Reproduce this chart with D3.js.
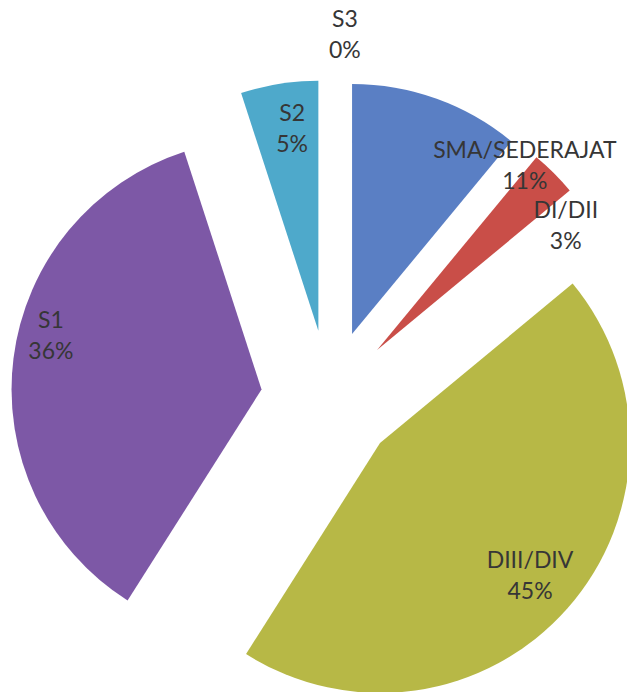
<!DOCTYPE html>
<html>
<head>
<meta charset="utf-8">
<script src="https://cdn.jsdelivr.net/npm/d3@7"></script>
<style>
  html, body { margin: 0; padding: 0; background: #ffffff; }
  svg { display: block; }
  .lbl { font-family: Lato, "Open Sans", sans-serif; fill: #363636; }
</style>
</head>
<body>
<svg id="chart" width="627" height="692"></svg>
<script>
// Education level shares (percent)
const categories = ["SMA/SEDERAJAT", "DI/DII", "DIII/DIV", "S1", "S2", "S3"];
const values = [11, 3, 45, 36, 5, 0];
const sliceColors = ["#5a7fc4", "#c94e48", "#b7b846", "#7d58a6", "#4ea9cb", "#8aa0d0"];

// Label placement around the pie centre: [angle in degrees clockwise from 12 o'clock, radius]
const labelAngles = [40.1, 53.9, 131.4, 282.6, 352.2, 2.5];
const labelRadii = [304, 293, 268, 285, 272, 364];

const width = 627, height = 692;
const cx = 329, cy = 398;
const radius = 250;
const explode = 68;
const lineGap = 31;
const fontSize = 23;

const svg = d3.select("#chart");
const g = svg.append("g").attr("transform", `translate(${cx},${cy})`);

const rows = categories.map((c, i) => ({ name: c, value: values[i], color: sliceColors[i], i }));

const pie = d3.pie().sort(null).value(d => d.value);
const arc = d3.arc().innerRadius(0).outerRadius(radius);
const arcs = pie(rows);

// Every slice is pulled out along its bisector
g.selectAll("path.slice")
  .data(arcs.filter(a => a.endAngle > a.startAngle))
  .join("path")
  .attr("class", "slice")
  .attr("fill", d => d.data.color)
  .attr("transform", d => {
    const mid = (d.startAngle + d.endAngle) / 2;
    return `translate(${explode * Math.sin(mid)},${-explode * Math.cos(mid)})`;
  })
  .attr("d", arc);

// Two-line data labels: category name and percentage
const labels = g.selectAll("text.lbl")
  .data(arcs)
  .join("text")
  .attr("class", "lbl")
  .attr("text-anchor", "middle")
  .attr("font-size", fontSize)
  .attr("transform", d => {
    const a = labelAngles[d.data.i] * Math.PI / 180;
    const r = labelRadii[d.data.i];
    return `translate(${r * Math.sin(a)},${-r * Math.cos(a)})`;
  });

labels.append("tspan")
  .attr("x", 0)
  .attr("y", -lineGap / 2)
  .attr("dy", "0.35em")
  .text(d => d.data.name);

labels.append("tspan")
  .attr("x", 0)
  .attr("y", lineGap / 2)
  .attr("dy", "0.35em")
  .text(d => d3.format(".0f")(d.data.value) + "%");
</script>
</body>
</html>
